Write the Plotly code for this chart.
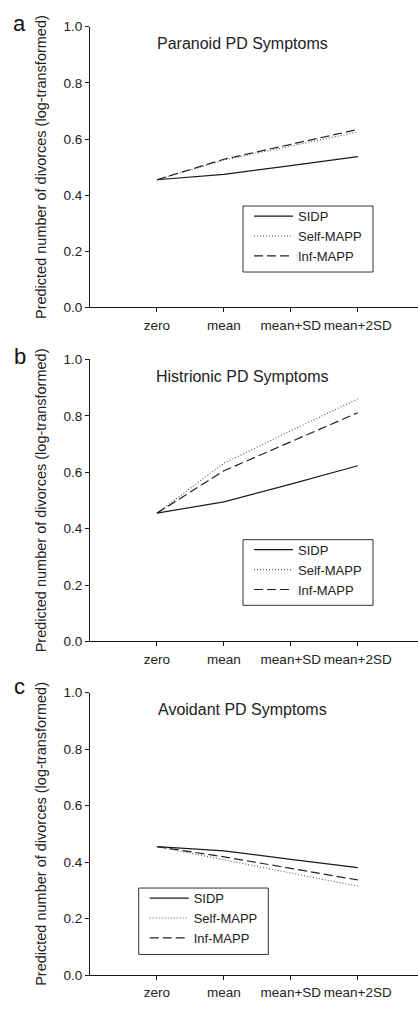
import plotly.graph_objects as go

categories = ["zero", "mean", "mean+SD", "mean+2SD"]
cat_pos = [1, 2, 3, 4]
y_ticks = [0.0, 0.2, 0.4, 0.6, 0.8, 1.0]
y_tick_labels = ["0.0", "0.2", "0.4", "0.6", "0.8", "1.0"]

series_names = ["SIDP", "Self-MAPP", "Inf-MAPP"]

paranoid_sidp = [0.455, 0.474, 0.505, 0.537]
paranoid_self = [0.455, 0.525, 0.575, 0.625]
paranoid_inf = [0.455, 0.528, 0.581, 0.634]

histrionic_sidp = [0.455, 0.495, 0.558, 0.623]
histrionic_self = [0.455, 0.632, 0.747, 0.860]
histrionic_inf = [0.455, 0.605, 0.708, 0.811]

avoidant_sidp = [0.455, 0.440, 0.410, 0.381]
avoidant_self = [0.455, 0.408, 0.362, 0.315]
avoidant_inf = [0.455, 0.419, 0.378, 0.337]

panel_titles = ["Paranoid PD Symptoms", "Histrionic PD Symptoms", "Avoidant PD Symptoms"]
panel_letters = ["a", "b", "c"]
y_label = "Predicted number of divorces (log-transformed)"

panels = [
    [paranoid_sidp, paranoid_self, paranoid_inf],
    [histrionic_sidp, histrionic_self, histrionic_inf],
    [avoidant_sidp, avoidant_self, avoidant_inf],
]

W, H = 418, 1013
# pixel layout (top, bottom) of each plot area
px_rows = [(20, 305), (357.7, 644), (696, 982.7)]
x_left = 90
# legend frame boxes (x0, y0, x1, y1) in pixels
legend_boxes = [(243, 202, 373, 269), (243, 540.7, 373, 607.3), (138.7, 894.3, 268.3, 961.7)]
title_y = [36.7, 375, 713]
letter_y = [17, 355, 690]

styles = [
    dict(color="#1a1a1a", width=1.2, dash="solid"),
    dict(color="#555555", width=1.1, dash="1px,2px"),
    dict(color="#222222", width=1.2, dash="9px,4px"),
]

fig = go.Figure()
font_family = "Arial, Liberation Sans, sans-serif"
text_color = "#222222"

for i, data in enumerate(panels):
    xa = "x" if i == 0 else f"x{i+1}"
    ya = "y" if i == 0 else f"y{i+1}"
    lg = "legend" if i == 0 else f"legend{i+1}"
    for j, vals in enumerate(data):
        fig.add_trace(go.Scatter(
            x=cat_pos, y=vals, mode="lines", name=series_names[j],
            line=styles[j], xaxis=xa, yaxis=ya, legend=lg,
        ))
    top, bot = px_rows[i]
    dom_y = [1 - bot / H, 1 - top / H]
    axis_common = dict(showline=True, linecolor="#1a1a1a", linewidth=1,
                       ticks="outside", ticklen=4, tickcolor="#1a1a1a",
                       showgrid=False, zeroline=False,
                       tickfont=dict(family=font_family, size=13.5, color=text_color))
    fig.layout[f"xaxis{'' if i == 0 else i+1}"] = dict(
        domain=[x_left / W, 1], range=[0, 4.9], anchor=ya,
        tickvals=cat_pos, ticktext=categories, ticklabelstandoff=1, **axis_common)
    fig.layout[f"yaxis{'' if i == 0 else i+1}"] = dict(
        domain=dom_y, range=[0, 1], anchor=xa,
        tickvals=y_ticks, ticktext=y_tick_labels,
        title=dict(text=y_label, font=dict(family=font_family, size=14.5, color=text_color), standoff=13),
        **axis_common)
    bx0, by0, bx1, by1 = legend_boxes[i]
    fig.add_shape(type="rect", xref="paper", yref="paper",
                  x0=bx0 / W, x1=bx1 / W, y0=1 - by1 / H, y1=1 - by0 / H,
                  line=dict(color="#333333", width=1), fillcolor="rgba(0,0,0,0)")
    fig.layout[lg] = dict(
        x=(bx0 + 6) / W, y=1 - (by0 - 5) / H, xanchor="left", yanchor="top",
        borderwidth=0, bgcolor="rgba(255,255,255,0)",
        font=dict(family=font_family, size=13, color=text_color),
        itemwidth=39, tracegroupgap=0,
    )
    fig.add_annotation(text=panel_titles[i], x=242.5 / W, y=1 - title_y[i] / H,
                       xref="paper", yref="paper", showarrow=False,
                       xanchor="center", yanchor="middle",
                       font=dict(family=font_family, size=16, color=text_color))
    fig.add_annotation(text=panel_letters[i], x=19.5 / W, y=1 - letter_y[i] / H,
                       xref="paper", yref="paper", showarrow=False,
                       xanchor="center", yanchor="middle",
                       font=dict(family=font_family, size=22, color="#111111"))

fig.update_layout(
    width=W, height=H, margin=dict(l=0, r=0, t=0, b=0),
    paper_bgcolor="white", plot_bgcolor="white", showlegend=True,
)

fig.write_html("out.html", config={"displayModeBar": False},
               post_script="document.body.style.margin='0';document.body.style.overflow='hidden';")
